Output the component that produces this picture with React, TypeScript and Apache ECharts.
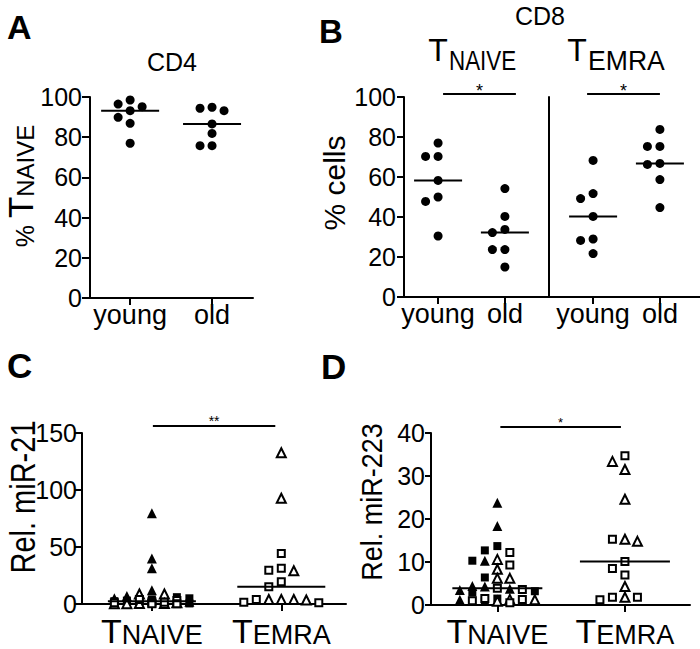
import React, { useEffect, useRef } from 'react';
import * as echarts from 'echarts';

// ---------------- data ----------------
const AGE_GROUPS = ['young', 'old'];
const SUBSETS = ['NAIVE', 'EMRA'];

// A: CD4, % TNAIVE
const A_CD4_NAIVE_YOUNG = [98.5, 96.5, 95.2, 93.2, 89.9, 86.9, 77.0];
const A_CD4_NAIVE_OLD = [94.9, 94.4, 93.2, 86.6, 81.9, 75.8, 75.8];

// B: CD8, % cells
const B_CD8_NAIVE_YOUNG = [77.0, 70.3, 70.3, 58.3, 50.0, 47.8, 30.5];
const B_CD8_NAIVE_OLD = [54.2, 40.3, 33.8, 32.2, 23.7, 23.7, 15.0];
const B_CD8_EMRA_YOUNG = [68.3, 51.7, 49.2, 40.3, 29.0, 28.3, 21.7];
const B_CD8_EMRA_OLD = [83.8, 75.3, 75.3, 66.8, 66.3, 58.7, 44.7];

// C: Rel. miR-21
const C_NAIVE_TRI_FILLED = [79.6, 40.0, 31.3, 12.0, 7.0, 5.0, 3.0, 2.0];
const C_NAIVE_SQ_FILLED = [6.0, 5.0, 4.0, 3.0, 2.5, 1.5, 1.0, 0.5];
const C_NAIVE_TRI_OPEN = [8.8, 8.8, 1.0, 0.5, 0.4, 0.3, 0.2];
const C_NAIVE_SQ_OPEN = [4.0, 3.0, 2.0, 1.5, 1.0, 0.6, 0.3, 0.2];
const C_EMRA_TRI_OPEN = [132.7, 92.7, 29.2, 4.0, 4.0, 3.5, 4.0];
const C_EMRA_SQ_OPEN = [44.4, 31.3, 29.5, 19.6, 15.2, 4.0, 1.0, 1.5];

// D: Rel. miR-223
const D_NAIVE_TRI_FILLED = [23.8, 18.4, 10.3, 4.4, 4.3, 3.8, 3.5, 1.2];
const D_NAIVE_SQ_FILLED = [13.7, 12.7, 10.3, 6.4, 3.2, 2.9, 1.5, 0.8];
const D_NAIVE_TRI_OPEN = [10.6, 8.3, 6.2, 6.2, 1.3, 1.2, 0.9];
const D_NAIVE_SQ_OPEN = [12.2, 9.3, 3.9, 3.6, 1.5, 1.3, 1.0, 0.5];
const D_EMRA_TRI_OPEN = [33.4, 31.5, 24.6, 15.3, 14.8, 4.3, 1.8];
const D_EMRA_SQ_OPEN = [34.7, 15.3, 10.1, 8.5, 7.0, 1.8, 1.2, 1.8];

// ---------------- styling ----------------
const FONT = '"Liberation Sans", Arial, Helvetica, sans-serif';

type Shape = 'dot' | 'triF' | 'triO' | 'sqF' | 'sqO';
const SHAPES: Record<Shape, { symbol: string; size: number; fill: string; border: number }> = {
  dot: { symbol: 'circle', size: 9, fill: '#000', border: 0 },
  triF: { symbol: 'triangle', size: 10, fill: '#000', border: 0 },
  triO: { symbol: 'triangle', size: 9, fill: '#fff', border: 2 },
  sqF: { symbol: 'rect', size: 8, fill: '#000', border: 0 },
  sqO: { symbol: 'rect', size: 7, fill: '#fff', border: 2 },
};

function median(vals: number[]): number {
  const s = [...vals].sort((a, b) => a - b);
  const n = s.length;
  return n % 2 ? s[(n - 1) / 2] : (s[n / 2 - 1] + s[n / 2]) / 2;
}

// simple beeswarm: horizontal pixel offsets so that symbols do not overlap
function swarm(vals: number[], pxPerUnit: number, step: number, diam: number, maxK: number): number[] {
  const order = vals.map((_, i) => i).sort((a, b) => vals[b] - vals[a]);
  const placed: { x: number; y: number }[] = [];
  const offs = new Array(vals.length).fill(0);
  const cands = [0];
  for (let k = 1; k <= maxK; k++) cands.push(-k * step, k * step);
  for (const i of order) {
    const y = vals[i] * pxPerUnit;
    let best = 0;
    let bestD = -Infinity;
    for (const c of cands) {
      let minD = Infinity;
      for (const p of placed) {
        const d = Math.hypot(p.x - c, p.y - y);
        if (d < minD) minD = d;
      }
      if (minD >= diam) {
        best = c;
        break;
      }
      if (minD > bestD) {
        bestD = minD;
        best = c;
      }
    }
    placed.push({ x: best, y });
    offs[i] = best;
  }
  return offs;
}

interface SetDef { shape: Shape; values: number[] }
interface Panel {
  grid: { left: number; top: number; width: number; height: number };
  xMin: number;
  xMax: number;
  yMin: number;
  yMax: number;
  yInterval: number;
  groups: { cat: number; sets: SetDef[] }[];
  step: number;
  maxK: number;
  diam: number;
  medianHalf: number;
  showY: boolean;
  yLabel: { fontFamily: string; fontSize: number; margin: number };
  tickLen: number;
  xLabel: any;
  bracket?: { label: string; gap: number; dx0: number; dx1: number; fs: number; sy: number };
}

function buildOption() {
  const catPlain = {
    customValues: [0, 1],
    formatter: (v: number) => AGE_GROUPS[Math.round(v)] ?? '',
    fontFamily: FONT,
    fontSize: 27,
    lineHeight: 27,
    margin: 3,
    color: '#000',
  };
  const catSub = (margin: number) => ({
    customValues: [0, 1],
    formatter: (v: number) => `{t|T}{s|${SUBSETS[Math.round(v)] ?? ''}}`,
    margin,
    color: '#000',
    rich: {
      t: { fontFamily: FONT, fontSize: 34, lineHeight: 34, verticalAlign: 'bottom', color: '#000' },
      s: { fontFamily: FONT, fontSize: 27, lineHeight: 27, verticalAlign: 'bottom', color: '#000' },
    },
  });

  const panels: Panel[] = [
    {
      grid: { left: 90, top: 97, width: 163, height: 201 },
      xMin: -0.49, xMax: 1.5, yMin: 0, yMax: 100, yInterval: 20,
      groups: [
        { cat: 0, sets: [{ shape: 'dot', values: A_CD4_NAIVE_YOUNG }] },
        { cat: 1, sets: [{ shape: 'dot', values: A_CD4_NAIVE_OLD }] },
      ],
      step: 12, maxK: 2, diam: 9, medianHalf: 29, showY: true,
      yLabel: { fontFamily: FONT, fontSize: 25, margin: 8 }, tickLen: 8,
      xLabel: catPlain,
    },
    {
      grid: { left: 404, top: 97, width: 145, height: 200 },
      xMin: -0.51, xMax: 1.66, yMin: 0, yMax: 100, yInterval: 20,
      groups: [
        { cat: 0, sets: [{ shape: 'dot', values: B_CD8_NAIVE_YOUNG }] },
        { cat: 1, sets: [{ shape: 'dot', values: B_CD8_NAIVE_OLD }] },
      ],
      step: 12.5, maxK: 2, diam: 9, medianHalf: 24, showY: true,
      yLabel: { fontFamily: FONT, fontSize: 25, margin: 8 }, tickLen: 7,
      xLabel: catPlain,
      bracket: { label: '*', gap: 3, dx0: 5, dx1: 11, fs: 18, sy: -3.5 },
    },
    {
      grid: { left: 549, top: 97, width: 151, height: 200 },
      xMin: -0.66, xMax: 1.6, yMin: 0, yMax: 100, yInterval: 20,
      groups: [
        { cat: 0, sets: [{ shape: 'dot', values: B_CD8_EMRA_YOUNG }] },
        { cat: 1, sets: [{ shape: 'dot', values: B_CD8_EMRA_OLD }] },
      ],
      step: 12.5, maxK: 2, diam: 9, medianHalf: 24, showY: false,
      yLabel: { fontFamily: FONT, fontSize: 25, margin: 8 }, tickLen: 7,
      xLabel: catPlain,
      bracket: { label: '*', gap: 3, dx0: -6, dx1: 0, fs: 18, sy: -3.5 },
    },
    {
      grid: { left: 82, top: 433, width: 264, height: 171 },
      xMin: -0.54, xMax: 1.5, yMin: 0, yMax: 150, yInterval: 50,
      groups: [
        {
          cat: 0,
          sets: [
            { shape: 'triF', values: C_NAIVE_TRI_FILLED },
            { shape: 'sqF', values: C_NAIVE_SQ_FILLED },
            { shape: 'triO', values: C_NAIVE_TRI_OPEN },
            { shape: 'sqO', values: C_NAIVE_SQ_OPEN },
          ],
        },
        {
          cat: 1,
          sets: [
            { shape: 'triO', values: C_EMRA_TRI_OPEN },
            { shape: 'sqO', values: C_EMRA_SQ_OPEN },
          ],
        },
      ],
      step: 12.5, maxK: 3, diam: 9, medianHalf: 44, showY: true,
      yLabel: { fontFamily: FONT, fontSize: 25, margin: 5 }, tickLen: 8,
      xLabel: catSub(10),
      bracket: { label: '**', gap: 7, dx0: 1, dx1: -6, fs: 14, sy: -5 },
    },
    {
      grid: { left: 431, top: 433, width: 259, height: 172 },
      xMin: -0.52, xMax: 1.51, yMin: 0, yMax: 40, yInterval: 10,
      groups: [
        {
          cat: 0,
          sets: [
            { shape: 'triF', values: D_NAIVE_TRI_FILLED },
            { shape: 'sqF', values: D_NAIVE_SQ_FILLED },
            { shape: 'triO', values: D_NAIVE_TRI_OPEN },
            { shape: 'sqO', values: D_NAIVE_SQ_OPEN },
          ],
        },
        {
          cat: 1,
          sets: [
            { shape: 'triO', values: D_EMRA_TRI_OPEN },
            { shape: 'sqO', values: D_EMRA_SQ_OPEN },
          ],
        },
      ],
      step: 12.5, maxK: 3, diam: 9, medianHalf: 45, showY: true,
      yLabel: { fontFamily: FONT, fontSize: 25, margin: 6 }, tickLen: 6,
      xLabel: catSub(9),
      bracket: { label: '*', gap: 6, dx0: 3, dx1: -4, fs: 13, sy: -5 },
    },
  ];

  const grids: any[] = [];
  const xAxes: any[] = [];
  const yAxes: any[] = [];
  const series: any[] = [];
  const axisLineStyle = { color: '#000', width: 2 };

  panels.forEach((p, i) => {
    grids.push({ ...p.grid, containLabel: false, outerBoundsMode: 'none', show: false });
    xAxes.push({
      gridIndex: i,
      type: 'value',
      min: p.xMin,
      max: p.xMax,
      axisLine: { show: true, onZero: false, lineStyle: axisLineStyle },
      axisTick: { show: true, customValues: [0, 1], length: 7, lineStyle: axisLineStyle },
      axisLabel: { show: true, ...p.xLabel },
      splitLine: { show: false },
    });
    yAxes.push({
      gridIndex: i,
      type: 'value',
      min: p.yMin,
      max: p.yMax,
      interval: p.yInterval,
      axisLine: { show: true, onZero: false, lineStyle: axisLineStyle },
      axisTick: { show: p.showY, length: p.tickLen, lineStyle: axisLineStyle },
      axisLabel: { show: p.showY, color: '#000', ...p.yLabel },
      splitLine: { show: false },
    });

    const pxPerUnit = p.grid.height / (p.yMax - p.yMin);
    const byShape: Partial<Record<Shape, any[]>> = {};
    const medians: number[][] = [];
    p.groups.forEach((g) => {
      const all: { v: number; shape: Shape }[] = [];
      g.sets.forEach((s) => s.values.forEach((v) => all.push({ v, shape: s.shape })));
      const offs = swarm(all.map((a) => a.v), pxPerUnit, p.step, p.diam, p.maxK);
      all.forEach((a, k) => {
        (byShape[a.shape] = byShape[a.shape] || []).push({ value: [g.cat, a.v], symbolOffset: [offs[k], 0] });
      });
      medians.push([g.cat, median(all.map((a) => a.v))]);
    });

    (Object.keys(byShape) as Shape[]).forEach((sh) => {
      const st = SHAPES[sh];
      series.push({
        type: 'scatter',
        xAxisIndex: i,
        yAxisIndex: i,
        clip: false,
        symbol: st.symbol,
        symbolSize: st.size,
        itemStyle: { color: st.fill, borderColor: '#000', borderWidth: st.border, opacity: 1 },
        z: sh.endsWith('O') ? 4 : 3,
        data: byShape[sh],
      });
    });

    const hw = p.medianHalf;
    series.push({
      type: 'custom',
      xAxisIndex: i,
      yAxisIndex: i,
      clip: false,
      z: 5,
      data: medians,
      renderItem: (_params: any, api: any) => {
        const c = api.coord([api.value(0), api.value(1)]);
        return {
          type: 'line',
          shape: { x1: c[0] - hw, y1: c[1], x2: c[0] + hw, y2: c[1] },
          style: { stroke: '#000', lineWidth: 2 },
        };
      },
    });

    if (p.bracket) {
      const br = p.bracket;
      const yTop = p.yMax;
      series.push({
        type: 'custom',
        xAxisIndex: i,
        yAxisIndex: i,
        clip: false,
        z: 5,
        data: [[0, 1]],
        renderItem: (_params: any, api: any) => {
          const a = api.coord([api.value(0), yTop]);
          const b = api.coord([api.value(1), yTop]);
          const y = a[1] - br.gap;
          const x1 = a[0] + br.dx0;
          const x2 = b[0] + br.dx1;
          return {
            type: 'group',
            children: [
              { type: 'line', shape: { x1, y1: y, x2, y2: y }, style: { stroke: '#000', lineWidth: 2 } },
              {
                type: 'text',
                x: (x1 + x2) / 2,
                y: y + br.sy,
                style: {
                  text: br.label,
                  font: `${br.fs}px ${FONT}`,
                  fill: '#000',
                  align: 'center',
                  verticalAlign: 'middle',
                  textAlign: 'center',
                  textVerticalAlign: 'middle',
                },
              },
            ],
          };
        },
      });
    }
  });

  const txt = (
    text: string, x: number, y: number, font: string,
    align = 'left', rotation = 0, scaleX = 1, scaleY = 1,
  ): any => ({
    type: 'text',
    x,
    y,
    rotation,
    scaleX,
    scaleY,
    style: { text, font, fill: '#000', align, verticalAlign: 'middle', textAlign: align, textVerticalAlign: 'middle' },
  });

  const graphic: any[] = [
    txt('A', 7, 27, `bold 34px ${FONT}`),
    txt('B', 319, 31, `bold 33px ${FONT}`),
    txt('C', 7, 365, `bold 35px ${FONT}`),
    txt('D', 321, 366, `bold 35px ${FONT}`),
    txt('CD4', 172, 62, `25px ${FONT}`, 'center'),
    txt('CD8', 540, 16, `25px ${FONT}`, 'center'),
    txt('T', 438, 50, `32px ${FONT}`, 'center'),
    txt('NAIVE', 449, 60, `28px ${FONT}`, 'left', 0, 0.8, 1),
    txt('T', 577, 50, `32px ${FONT}`, 'center'),
    txt('EMRA', 588, 60.5, `28px ${FONT}`, 'left', 0, 0.95, 1),
    {
      type: 'text',
      x: 20,
      y: 186,
      rotation: Math.PI / 2,
      style: {
        text: '{p|% }{t|T}{s|NAIVE}',
        align: 'center',
        verticalAlign: 'middle',
        textAlign: 'center',
        textVerticalAlign: 'middle',
        fill: '#000',
        rich: {
          p: { fontFamily: FONT, fontSize: 25, lineHeight: 25, verticalAlign: 'bottom', fill: '#000' },
          t: { fontFamily: FONT, fontSize: 35, lineHeight: 35, verticalAlign: 'bottom', fill: '#000' },
          s: { fontFamily: FONT, fontSize: 24, lineHeight: 24, verticalAlign: 'bottom', fill: '#000' },
        },
      },
    },
    txt('% cells', 334, 183, `30px ${FONT}`, 'center', Math.PI / 2),
    txt('Rel. miR-21', 23, 497, `29px ${FONT}`, 'center', Math.PI / 2, 1, 1.2),
    txt('Rel. miR-223', 371.5, 502, `27px ${FONT}`, 'center', Math.PI / 2, 1, 1.1),
  ];

  return {
    animation: false,
    backgroundColor: '#fff',
    textStyle: { fontFamily: FONT, color: '#000' },
    grid: grids,
    xAxis: xAxes,
    yAxis: yAxes,
    series,
    graphic,
  };
}

export default function App() {
  const ref = useRef<HTMLDivElement>(null);
  useEffect(() => {
    if (!ref.current) return;
    const chart = echarts.init(ref.current, null, { renderer: 'svg' });
    chart.setOption(buildOption() as any);
    return () => chart.dispose();
  }, []);
  return (
    <div
      ref={ref}
      style={{ position: 'absolute', left: 0, top: 0, width: 700, height: 649, background: '#fff' }}
    />
  );
}
